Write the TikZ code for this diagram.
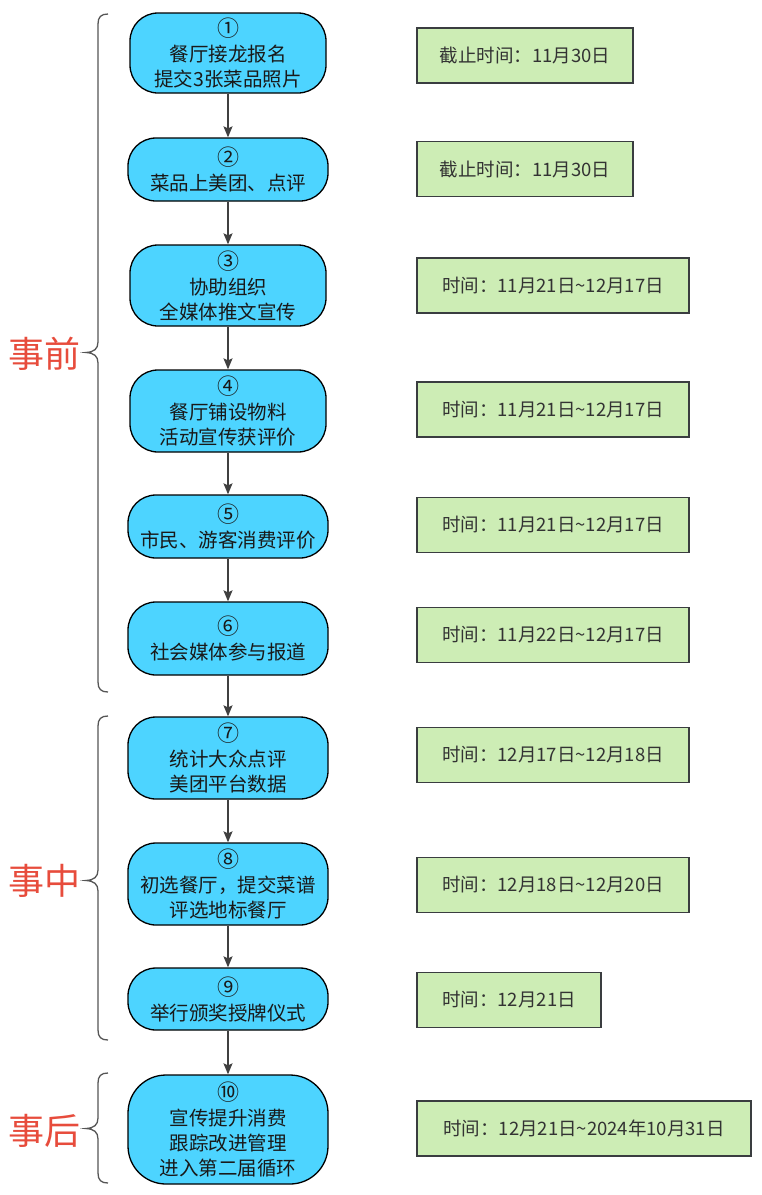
\documentclass[tikz,border=0pt]{standalone}
\usepackage{fontspec}
\setmainfont{Noto Sans CJK SC}
\usetikzlibrary{arrows.meta}
\definecolor{bluefill}{HTML}{4DD4FF}
\definecolor{greenfill}{HTML}{CDEDB5}
\definecolor{greenline}{HTML}{3A3D40}
\definecolor{arrowcol}{HTML}{404040}
\definecolor{bracecol}{HTML}{555555}
\definecolor{phasecol}{HTML}{E74C3C}
\definecolor{txtgray}{HTML}{333333}
\newcommand\stepnum[1]{{\fontsize{22}{25}\selectfont #1}}
\begin{document}
\begin{tikzpicture}[x=1pt,y=-1pt,
  bnode/.style={draw=black, line width=1.3pt, fill=bluefill, rounded corners=28pt,
    align=center, inner sep=0pt, font=\fontsize{19.5}{25}\selectfont, text=black!90},
  gnode/.style={draw=greenline, line width=1.2pt, fill=greenfill, minimum height=55pt,
    inner sep=0pt, font=\fontsize{18.5}{22}\selectfont, text=txtgray},
  flow/.style={draw=arrowcol, line width=1.4pt, -{Stealth[length=11pt,width=9pt,inset=2pt]}},
  bracestyle/.style={draw=bracecol, line width=1.3pt},
  phase/.style={text=phasecol, font=\fontsize{36}{40}\selectfont, inner sep=0pt}]
\useasboundingbox (0,0) rectangle (762,1195);

% blue process nodes
\node[bnode, minimum width=196pt, minimum height=80pt] (b1) at (228,53) {\stepnum{①}\\餐厅接龙报名\\提交3张菜品照片};
\node[bnode, minimum width=200pt, minimum height=63pt] (b2) at (228,169.5) {\stepnum{②}\\菜品上美团、点评};
\node[bnode, minimum width=196pt, minimum height=81pt] (b3) at (228,285.5) {\stepnum{③}\\协助组织\\全媒体推文宣传};
\node[bnode, minimum width=196pt, minimum height=82pt] (b4) at (228,411) {\stepnum{④}\\餐厅铺设物料\\活动宣传获评价};
\node[bnode, minimum width=200pt, minimum height=63pt] (b5) at (228,526.5) {\stepnum{⑤}\\市民、游客消费评价};
\node[bnode, minimum width=200pt, minimum height=73pt] (b6) at (228,638.5) {\stepnum{⑥}\\社会媒体参与报道};
\node[bnode, minimum width=200pt, minimum height=82pt] (b7) at (228,758) {\stepnum{⑦}\\统计大众点评\\美团平台数据};
\node[bnode, minimum width=200pt, minimum height=82pt] (b8) at (228,884) {\stepnum{⑧}\\初选餐厅，提交菜谱\\评选地标餐厅};
\node[bnode, minimum width=200pt, minimum height=62pt] (b9) at (228,999) {\stepnum{⑨}\\举行颁奖授牌仪式};
\node[bnode, minimum width=200pt, minimum height=109pt, rounded corners=38pt] (b10) at (228,1129.5) {\stepnum{⑩}\\宣传提升消费\\跟踪改进管理\\进入第二届循环};

% green time nodes
\node[gnode, minimum width=216pt] (g1) at (525,55.5) {截止时间：11月30日};
\node[gnode, minimum width=216pt] (g2) at (525,169) {截止时间：11月30日};
\node[gnode, minimum width=272pt] (g3) at (553,285.5) {时间：11月21日\textasciitilde12月17日};
\node[gnode, minimum width=272pt] (g4) at (553,409.5) {时间：11月21日\textasciitilde12月17日};
\node[gnode, minimum width=272pt] (g5) at (553,525) {时间：11月21日\textasciitilde12月17日};
\node[gnode, minimum width=272pt] (g6) at (553,635) {时间：11月22日\textasciitilde12月17日};
\node[gnode, minimum width=272pt] (g7) at (553,755) {时间：12月17日\textasciitilde12月18日};
\node[gnode, minimum width=272pt] (g8) at (553,885) {时间：12月18日\textasciitilde12月20日};
\node[gnode, minimum width=184pt] (g9) at (509,1000) {时间：12月21日};
\node[gnode, minimum width=334pt] (g10) at (584,1128.5) {时间：12月21日\textasciitilde2024年10月31日};

% connectors
\draw[flow] (b1) -- (b2);
\draw[flow] (b2) -- (b3);
\draw[flow] (b3) -- (b4);
\draw[flow] (b4) -- (b5);
\draw[flow] (b5) -- (b6);
\draw[flow] (b6) -- (b7);
\draw[flow] (b7) -- (b8);
\draw[flow] (b8) -- (b9);
\draw[flow] (b9) -- (b10);

% braces
\draw[bracestyle] (108,14) .. controls (101,14) and (98,17) .. (98,24) -- (98,342)
  .. controls (98,349) and (94,352) .. (86,352.5) .. controls (94,353) and (98,356) .. (98,363)
  -- (98,682) .. controls (98,689) and (101,692) .. (108,692);
\draw[bracestyle] (108,716) .. controls (101,716) and (98,719) .. (98,726) -- (98,870)
  .. controls (98,877) and (94,880) .. (86,880.5) .. controls (94,881) and (98,884) .. (98,891)
  -- (98,1030) .. controls (98,1037) and (101,1040) .. (108,1040);
\draw[bracestyle] (108,1073) .. controls (101,1073) and (98,1076) .. (98,1083) -- (98,1118)
  .. controls (98,1125) and (94,1128) .. (86,1128.5) .. controls (94,1129) and (98,1132) .. (98,1139)
  -- (98,1173) .. controls (98,1180) and (101,1183) .. (108,1183);

% phase labels
\node[phase] (l1) at (45,354) {事前};
\node[phase] (l2) at (45,881) {事中};
\node[phase] (l3) at (45,1131) {事后};
\end{tikzpicture}
\end{document}
